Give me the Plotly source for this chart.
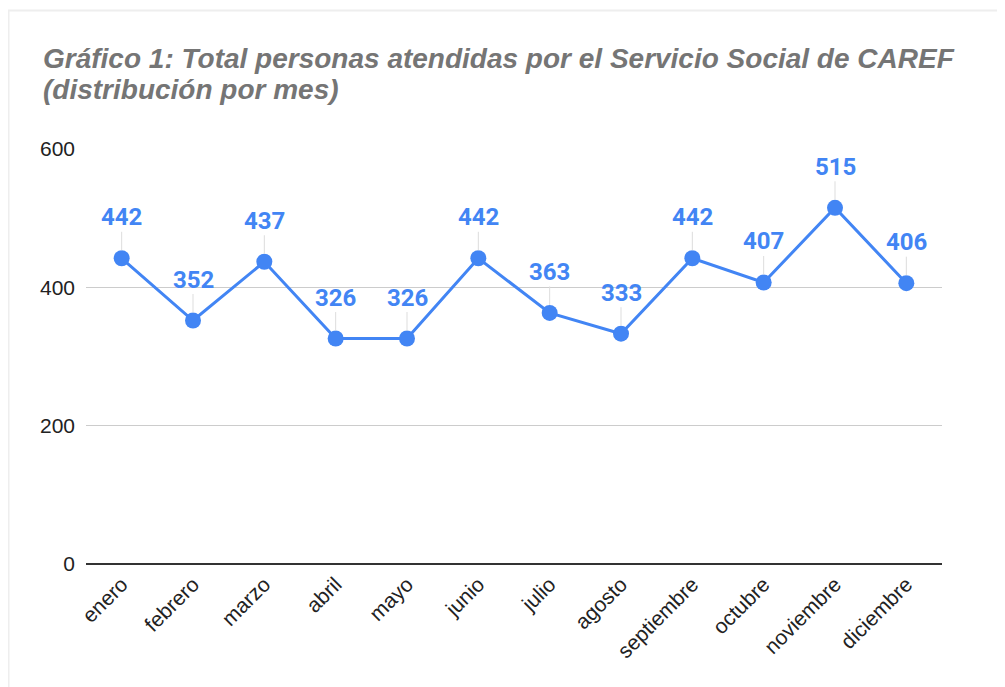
import plotly.graph_objects as go

months = ["enero", "febrero", "marzo", "abril", "mayo", "junio", "julio",
          "agosto", "septiembre", "octubre", "noviembre", "diciembre"]
values = [442, 352, 437, 326, 326, 442, 363, 333, 442, 407, 515, 406]
y_ticks = [0, 200, 400, 600]
title_lines = ["Gráfico 1: Total personas atendidas por el Servicio Social de CAREF",
               "(distribución por mes)"]

# figure placed by the page with an 8px body margin
W, H = 997, 679
L, R, T, B = 78, 63, 141, 123
PW, PH = W - L - R, H - T - B
BLUE = "#4285F4"


def px_x(x):
    return (x - L) / PW


def px_y(y):
    return 1 - (y - T) / PH


fig = go.Figure()
fig.add_trace(go.Scatter(
    x=months, y=values, mode="lines+markers",
    line=dict(color=BLUE, width=3),
    marker=dict(color=BLUE, size=16),
    hoverinfo="x+y", showlegend=False, cliponaxis=False,
))

annotations = []
for m, v in zip(months, values):
    annotations.append(dict(
        x=m, y=v, xref="x", yref="y", text=str(v),
        showarrow=True, arrowhead=0, arrowwidth=1, arrowcolor="#dddddd",
        ax=0, ay=-41, standoff=8,
        font=dict(family="Roboto, Arial, sans-serif", size=24, color=BLUE, weight="bold"),
        borderpad=0,
    ))

for i, line in enumerate(title_lines):
    annotations.append(dict(
        xref="paper", yref="paper",
        x=px_x(33), y=px_y(50 + 31 * i),
        xanchor="left", yanchor="middle", align="left", showarrow=False,
        text="<b><i>" + line + "</i></b>",
        font=dict(family="Liberation Sans, Arial, sans-serif", size=28, color="#757575"),
    ))

shapes = [
    dict(type="line", xref="paper", yref="paper",
         x0=px_x(0), x1=px_x(992), y0=px_y(2.5), y1=px_y(2.5),
         line=dict(color="#eeeeee", width=2), layer="below"),
    dict(type="line", xref="paper", yref="paper",
         x0=px_x(0.5), x1=px_x(0.5), y0=px_y(2.5), y1=px_y(690),
         line=dict(color="#eeeeee", width=2), layer="below"),
]

fig.update_layout(
    width=W, height=H,
    margin=dict(l=L, r=R, t=T, b=B, pad=0),
    paper_bgcolor="white", plot_bgcolor="white",
    annotations=annotations, shapes=shapes,
    font=dict(family="Liberation Sans, Arial, sans-serif"),
    xaxis=dict(
        type="category", tickangle=-45, showgrid=False, zeroline=False,
        showline=False, ticks="", ticklabelstandoff=3,
        tickfont=dict(size=21, color="#222222"),
        range=[-0.5, len(months) - 0.5],
    ),
    yaxis=dict(
        range=[0, 600], tickvals=y_ticks, showgrid=True, gridcolor="#cccccc",
        gridwidth=1, zeroline=True, zerolinecolor="#333333", zerolinewidth=2,
        showline=False, ticks="", ticklen=0, ticklabelstandoff=10,
        tickfont=dict(size=21, color="#222222"),
    ),
)

fig.write_html("out.html")
